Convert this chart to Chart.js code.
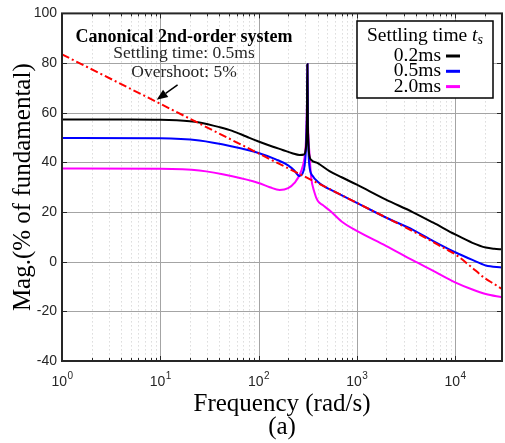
<!DOCTYPE html>
<html>
<head>
<meta charset="utf-8">
<script src="https://cdn.jsdelivr.net/npm/chart.js@4.4.1/dist/chart.umd.min.js"></script>
<style>
  html, body { margin: 0; padding: 0; background: #ffffff; }
  canvas { display: block; }
</style>
</head>
<body>
<canvas id="bode" width="505" height="443"></canvas>
<script>
// Harmonic magnitude vs. frequency for three settling times
const freqTs02 = [1, 5, 10, 20, 25, 40, 54, 75, 100, 140, 176, 220, 261, 290, 300, 307, 311, 314, 317, 322, 330, 343, 400, 527, 700, 1000, 1977, 3690, 6000, 10000, 15000, 20500, 25000, 30000];
const magTs02  = [57.3, 57.3, 57.2, 56.6, 56.1, 54.2, 52.7, 50.4, 48.4, 46.3, 45.0, 43.7, 43.0, 43.2, 44.5, 49, 58, 79.5, 58, 47, 42.5, 41, 39.7, 36.5, 34, 31, 25, 20, 15.7, 11, 7.6, 5.7, 5.2, 5];

const freqTs05 = [1, 10, 25, 54, 100, 150, 200, 230, 261, 280, 295, 305, 310, 314, 317, 322, 328, 356, 400, 465, 527, 1000, 2000, 3690, 6000, 10000, 15000, 20500, 30000];
const magTs05  = [49.8, 49.7, 48.8, 46.4, 43.8, 41.2, 38.8, 36.8, 34.5, 35.5, 39, 47, 58, 79.5, 58, 45, 39, 34.5, 32.2, 30.3, 29.2, 23.7, 17.7, 12.9, 8.3, 3.8, 0.7, -1.5, -2.3];

const freqTs20 = [1, 10, 25, 54, 100, 130, 164, 200, 232, 271, 293, 302, 307, 311, 314, 317, 322, 329, 343, 370, 400, 450, 527, 700, 1000, 1977, 3690, 6000, 10000, 15000, 20500, 30000];
const magTs20  = [37.5, 37.4, 36.7, 34.4, 31.7, 30.0, 28.9, 29.6, 31.7, 36.4, 41.7, 47, 54, 64, 79.5, 60, 50, 44, 34, 28, 24.5, 22.8, 20.7, 16.2, 12.4, 6.4, 0.6, -3.7, -8.3, -11.2, -13, -14.3];

// Canonical 2nd-order reference (ts = 0.5 ms, 5 % overshoot)
const freqRef = [1, 10, 100, 1000, 5000, 8000, 10000, 14000, 20000, 25000, 30000];
const magRef  = [83.5, 63.6, 43.6, 23.7, 9.6, 5.1, 3.0, -1.5, -6.6, -9, -11];

const seriesLabels = ['0.2ms', '0.5ms', '2.0ms'];
const xRange = [1, 30000];
const yRange = [-40, 100];
const yStep = 20;

const SERIF = '"Liberation Serif", "Times New Roman", serif';
const SANS = '"Liberation Sans", Arial, Helvetica, sans-serif';
const AXIS_COLOR = '#262626';

function pts(xs, ys) { return xs.map((x, i) => ({ x: x, y: ys[i] })); }

function line(ctx, x1, y1, x2, y2) {
  ctx.beginPath(); ctx.moveTo(x1, y1); ctx.lineTo(x2, y2); ctx.stroke();
}

// log-axis positions of major (decade) and minor (2..9) ticks
function logTickValues(scale) {
  const out = [];
  const e0 = Math.floor(Math.log10(scale.min));
  const e1 = Math.ceil(Math.log10(scale.max));
  for (let e = e0; e <= e1; e++) {
    for (let m = 1; m <= 9; m++) {
      const v = m * Math.pow(10, e);
      if (v < scale.min - 1e-9 || v > scale.max + 1e-9) continue;
      out.push({ v: v, major: m === 1, exp: e });
    }
  }
  return out;
}

const gridPlugin = {
  id: 'bodeGrid',
  beforeDatasetsDraw(chart) {
    const { ctx, chartArea: a, scales: { x, y } } = chart;
    ctx.save();
    ctx.lineWidth = 1;
    // minor verticals, dotted
    ctx.strokeStyle = '#c9c9c9';
    ctx.setLineDash([1, 3]);
    logTickValues(x).forEach(t => {
      if (t.major) return;
      const px = Math.round(x.getPixelForValue(t.v)) + 0.5;
      line(ctx, px, a.top, px, a.bottom);
    });
    // major grid, solid
    ctx.setLineDash([]);
    ctx.strokeStyle = '#a4a4a4';
    logTickValues(x).forEach(t => {
      if (!t.major) return;
      const px = Math.round(x.getPixelForValue(t.v)) + 0.5;
      line(ctx, px, a.top, px, a.bottom);
    });
    y.ticks.forEach(t => {
      const py = Math.round(y.getPixelForValue(t.value)) + 0.5;
      line(ctx, a.left, py, a.right, py);
    });
    ctx.restore();
  }
};

function drawArrow(ctx, x1, y1, x2, y2) {
  const ang = Math.atan2(y2 - y1, x2 - x1);
  const headLen = 11, headW = 4.5;
  const bx = x2 - headLen * Math.cos(ang), by = y2 - headLen * Math.sin(ang);
  ctx.lineWidth = 1.5;
  line(ctx, x1, y1, bx, by);
  ctx.beginPath();
  ctx.moveTo(x2, y2);
  ctx.lineTo(bx + headW * Math.sin(ang), by - headW * Math.cos(ang));
  ctx.lineTo(bx - headW * Math.sin(ang), by + headW * Math.cos(ang));
  ctx.closePath();
  ctx.fill();
}

const decorPlugin = {
  id: 'bodeDecor',
  afterDraw(chart) {
    const { ctx, chartArea: a, scales: { x, y } } = chart;
    ctx.save();

    // tick marks (inward, bottom/top and left/right)
    ctx.strokeStyle = AXIS_COLOR;
    ctx.lineWidth = 1;
    logTickValues(x).forEach(t => {
      const px = Math.round(x.getPixelForValue(t.v)) + 0.5;
      const len = t.major ? 5 : 3;
      line(ctx, px, a.bottom, px, a.bottom - len);
      line(ctx, px, a.top, px, a.top + len);
    });
    y.ticks.forEach(t => {
      const py = Math.round(y.getPixelForValue(t.value)) + 0.5;
      line(ctx, a.left, py, a.left + 5, py);
      line(ctx, a.right, py, a.right - 5, py);
    });

    // axes box
    ctx.lineWidth = 2;
    ctx.strokeRect(a.left, a.top, a.right - a.left, a.bottom - a.top);

    // x tick labels 10^n
    ctx.fillStyle = AXIS_COLOR;
    ctx.textBaseline = 'alphabetic';
    ctx.textAlign = 'left';
    logTickValues(x).forEach(t => {
      if (!t.major) return;
      const cx = x.getPixelForValue(t.v);
      ctx.font = '14px ' + SANS;
      const w1 = ctx.measureText('10').width;
      ctx.font = '10px ' + SANS;
      const w2 = ctx.measureText(String(t.exp)).width;
      const x0 = cx - (w1 + w2) / 2;
      ctx.font = '14px ' + SANS;
      ctx.fillText('10', x0, a.bottom + 25);
      ctx.font = '10px ' + SANS;
      ctx.fillText(String(t.exp), x0 + w1 + 0.5, a.bottom + 18);
    });

    // axis titles
    ctx.fillStyle = '#000000';
    ctx.textAlign = 'center';
    ctx.font = '25px ' + SERIF;
    ctx.fillText('Frequency (rad/s)', (a.left + a.right) / 2, a.bottom + 50);
    ctx.fillText('(a)', (a.left + a.right) / 2, a.bottom + 73);
    ctx.save();
    ctx.translate(30, (a.top + a.bottom) / 2);
    ctx.rotate(-Math.PI / 2);
    ctx.fillText('Mag.(% of fundamental)', 0, 0);
    ctx.restore();

    // reference-system annotation
    const cx = a.left + 122;
    ctx.font = 'bold 18px ' + SERIF;
    ctx.fillStyle = '#000000';
    ctx.fillText('Canonical 2nd-order system', cx, a.top + 29);
    ctx.font = '17.5px ' + SERIF;
    ctx.fillStyle = '#262626';
    ctx.fillText('Settling time: 0.5ms', cx, a.top + 45);
    ctx.fillText('Overshoot: 5%', cx, a.top + 64);
    ctx.fillStyle = '#000000';
    ctx.strokeStyle = '#000000';
    drawArrow(ctx, x.getPixelForValue(15), y.getPixelForValue(71.2),
                   x.getPixelForValue(9.2), y.getPixelForValue(65.2));

    // legend box
    const lx = 357, ly = 21, lw = 136, lh = 77;
    ctx.fillStyle = '#ffffff';
    ctx.fillRect(lx, ly, lw, lh);
    ctx.strokeStyle = '#000000';
    ctx.lineWidth = 1.5;
    ctx.strokeRect(lx, ly, lw, lh);

    // legend title: Settling time t_s
    ctx.fillStyle = '#000000';
    ctx.textAlign = 'left';
    ctx.font = '19.5px ' + SERIF;
    const tPart = 'Settling time ';
    const w1 = ctx.measureText(tPart).width;
    ctx.font = 'italic 19.5px ' + SERIF;
    const w2 = ctx.measureText('t').width;
    ctx.font = 'italic 14px ' + SERIF;
    const w3 = ctx.measureText('s').width;
    let tx = lx + lw / 2 - (w1 + w2 + w3) / 2;
    ctx.font = '19.5px ' + SERIF;
    ctx.fillText(tPart, tx, ly + 20);
    ctx.font = 'italic 19.5px ' + SERIF;
    ctx.fillText('t', tx + w1, ly + 20);
    ctx.font = 'italic 14px ' + SERIF;
    ctx.fillText('s', tx + w1 + w2, ly + 23);

    // legend entries
    const entries = chart.data.datasets.filter(d => d.inLegend);
    entries.forEach((d, i) => {
      const by = ly + 40 + i * 15.3;
      ctx.textAlign = 'right';
      ctx.fillStyle = '#000000';
      ctx.font = '19.5px ' + SERIF;
      ctx.fillText(d.label, lx + 84, by);
      ctx.strokeStyle = d.borderColor;
      ctx.lineWidth = 3;
      line(ctx, lx + 89, by - 5, lx + 103, by - 5);
    });

    ctx.restore();
  }
};

const common = { pointRadius: 0, borderWidth: 2, fill: false, cubicInterpolationMode: 'monotone' };

new Chart(document.getElementById('bode'), {
  type: 'line',
  data: {
    datasets: [
      Object.assign({ label: 'Canonical 2nd-order system', data: pts(freqRef, magRef),
        borderColor: '#ff0000', borderDash: [8, 3, 2, 3], order: 0, inLegend: false }, common),
      Object.assign({ label: seriesLabels[0], data: pts(freqTs02, magTs02),
        borderColor: '#000000', order: 1, inLegend: true }, common),
      Object.assign({ label: seriesLabels[1], data: pts(freqTs05, magTs05),
        borderColor: '#0000ff', order: 2, inLegend: true }, common),
      Object.assign({ label: seriesLabels[2], data: pts(freqTs20, magTs20),
        borderColor: '#ff00ff', order: 3, inLegend: true }, common)
    ]
  },
  options: {
    responsive: false,
    animation: false,
    devicePixelRatio: 1,
    layout: { padding: { top: 12, right: 3, left: 0, bottom: 0 } },
    plugins: { legend: { display: false }, tooltip: { enabled: false } },
    scales: {
      x: {
        type: 'logarithmic',
        min: xRange[0], max: xRange[1],
        grid: { display: false, drawTicks: false },
        border: { display: false },
        ticks: { display: false },
        afterFit(s) { s.height = 82; }
      },
      y: {
        type: 'linear',
        min: yRange[0], max: yRange[1],
        grid: { display: false, drawTicks: false },
        border: { display: false },
        ticks: { stepSize: yStep, padding: 5, color: AXIS_COLOR, font: { family: SANS, size: 14 } },
        afterFit(s) { s.width = 62; }
      }
    }
  },
  plugins: [gridPlugin, decorPlugin]
});
</script>
</body>
</html>
